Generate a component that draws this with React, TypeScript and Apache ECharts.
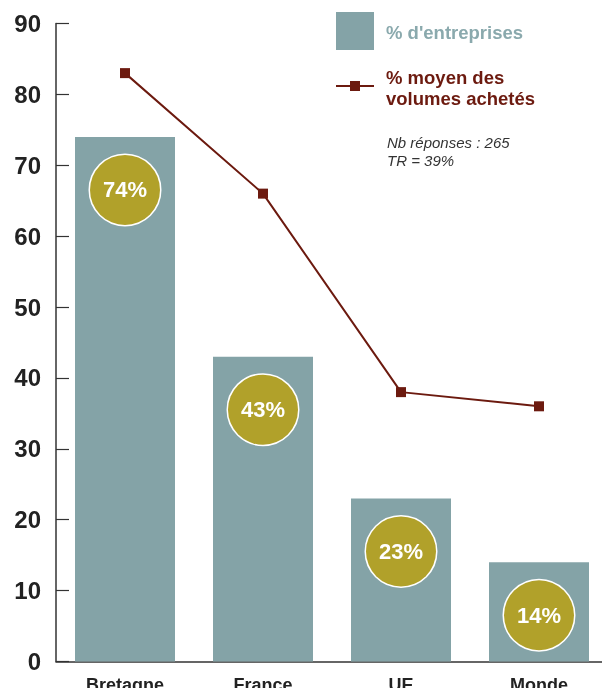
import React, { useEffect, useRef } from "react";
import * as echarts from "echarts";

const categories = ["Bretagne", "France", "UE", "Monde"];
const entreprises = [74, 43, 23, 14];
const volumes = [83, 66, 38, 36];
const yTicks = { min: 0, max: 90, interval: 10 };
const legendBar = "% d'entreprises";
const legendLine = "% moyen des\nvolumes achetés";
const noteText = "Nb réponses : 265\nTR = 39%";

const BAR = "#84a3a7";
const GOLD = "#b1a12a";
const RED = "#6c1a0f";
const FONT = "'Liberation Sans', Arial, sans-serif";

export default function App() {
  const ref = useRef<HTMLDivElement>(null);
  useEffect(() => {
    if (!ref.current) return;
    const chart = echarts.init(ref.current, undefined, { renderer: "svg" });
    chart.setOption({
      animation: false,
      textStyle: { fontFamily: FONT },
      grid: { left: 56, right: 0, top: 23.5, bottom: 26.5, containLabel: false, outerBoundsMode: "none" },
      xAxis: {
        type: "category",
        data: categories,
        axisLine: { lineStyle: { color: "#333", width: 1.5 } },
        axisTick: { inside: true, length: 14, lineStyle: { color: "#333", width: 1.2 } },
        axisLabel: { color: "#222", fontSize: 18, fontWeight: "bold", margin: 14, fontFamily: FONT },
      },
      yAxis: {
        type: "value",
        min: yTicks.min,
        max: yTicks.max,
        interval: yTicks.interval,
        splitLine: { show: false },
        axisLine: { show: true, lineStyle: { color: "#333", width: 1.5 } },
        axisTick: { show: true, inside: true, length: 13, lineStyle: { color: "#333", width: 1.2 } },
        axisLabel: { color: "#222", fontSize: 24, fontWeight: "bold", margin: 15, fontFamily: FONT },
      },
      series: [
        {
          type: "bar",
          data: entreprises,
          barWidth: 100,
          itemStyle: { color: BAR },
          label: {
            show: true,
            position: "insideTop",
            distance: 18,
            formatter: "{a|{c}%}",
            rich: {
              a: {
                width: 70,
                height: 70,
                lineHeight: 70,
                align: "center",
                backgroundColor: GOLD,
                borderColor: "#fff",
                borderWidth: 1.5,
                borderRadius: 35,
                color: "#fff",
                fontSize: 22,
                fontWeight: "bold",
                fontFamily: FONT,
              },
            },
          },
        },
        {
          type: "line",
          data: volumes,
          symbol: "rect",
          symbolSize: 10,
          lineStyle: { color: RED, width: 2 },
          itemStyle: { color: RED },
          z: 5,
        },
      ],
      graphic: [
        { type: "rect", shape: { x: 336, y: 12, width: 38, height: 38 }, style: { fill: BAR } },
        {
          type: "text",
          x: 386,
          y: 32,
          style: { text: legendBar, fill: "#8aa9ad", font: `bold 18.5px ${FONT}`, verticalAlign: "middle" },
        },
        { type: "line", shape: { x1: 336, y1: 86, x2: 374, y2: 86 }, style: { stroke: RED, lineWidth: 2 } },
        { type: "rect", shape: { x: 350, y: 81, width: 10, height: 10 }, style: { fill: RED } },
        {
          type: "text",
          x: 386,
          y: 66.5,
          style: { text: legendLine, fill: RED, font: `bold 18.5px ${FONT}`, lineHeight: 21, verticalAlign: "top" },
        },
        {
          type: "text",
          x: 387,
          y: 133,
          style: { text: noteText, fill: "#333", font: `italic 15px ${FONT}`, lineHeight: 18, verticalAlign: "top" },
        },
      ],
    });
    return () => chart.dispose();
  }, []);
  return (
    <div style={{ position: "fixed", left: 0, top: 0, width: 602, height: 688, overflow: "hidden" }}>
      <div ref={ref} style={{ width: 608, height: 688 }} />
    </div>
  );
}
